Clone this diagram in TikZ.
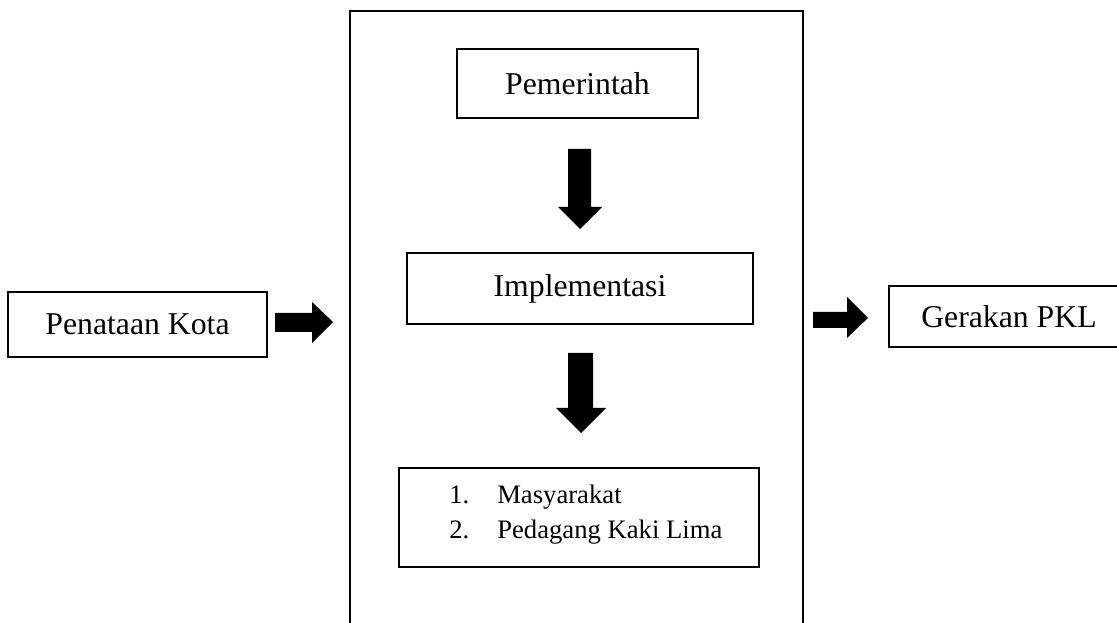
\documentclass[tikz,border=0pt]{standalone}
\usepackage{fontspec}
\setmainfont{Liberation Serif}
\begin{document}
\begin{tikzpicture}[x=0.75pt,y=-0.75pt,
  box/.style={draw=black,line width=1.5pt,rectangle,inner sep=0pt,
    font=\fontsize{23.8}{28}\selectfont},
  blockarrow/.style={fill=black,draw=none}]
\useasboundingbox (0,0) rectangle (1117,623);
\clip (0,0) rectangle (1117,623);
% outer frame (open at the bottom)
\draw[line width=1.5pt] (350,630) -- (350,11) -- (803,11) -- (803,630);
% boxes
\node[box,minimum width=241*0.75pt,minimum height=69*0.75pt] (pem) at (577.5,83.5) {Pemerintah};
\node[box,minimum width=346*0.75pt,minimum height=71*0.75pt] (impl) at (580,288.5) {Implementasi};
\node[box,minimum width=360*0.75pt,minimum height=99*0.75pt] (list) at (579,517.5) {};
\node[anchor=base west,inner sep=0pt,font=\fontsize{20}{26.25}\selectfont] (listtext) at (449,503)
  {\begin{tabular}[t]{@{}l@{\hspace{21pt}}l@{}}1. & Masyarakat\\ 2. & Pedagang Kaki Lima\end{tabular}};
\node[box,minimum width=259*0.75pt,minimum height=65*0.75pt] (pen) at (137.5,324.5) {Penataan Kota};
\node[box,minimum width=240*0.75pt,minimum height=61*0.75pt] (ger) at (1009,316.5) {Gerakan PKL};
% block arrows
\fill[blockarrow] (568,149) -- (591,149) -- (591,207) -- (602,207) -- (580,229) -- (558,207) -- (568,207) -- cycle;
\fill[blockarrow] (568,353) -- (593,353) -- (593,408) -- (606,408) -- (581,433) -- (556,408) -- (568,408) -- cycle;
\fill[blockarrow] (275,313) -- (312,313) -- (312,302) -- (333,322) -- (312,343) -- (312,332) -- (275,332) -- cycle;
\fill[blockarrow] (813,312) -- (847,312) -- (847,297) -- (868,318) -- (847,338) -- (847,328) -- (813,328) -- cycle;
\end{tikzpicture}
\end{document}
